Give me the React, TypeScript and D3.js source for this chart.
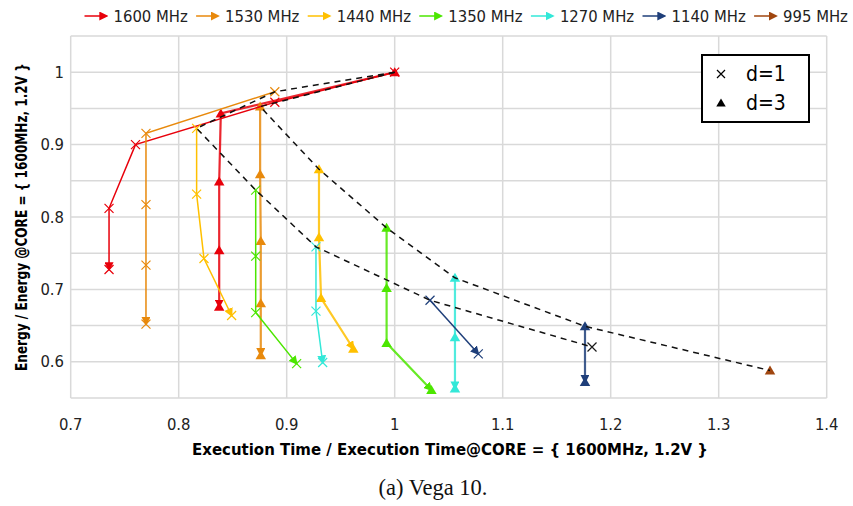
import * as d3 from "d3";
import { useEffect, useRef } from "react";

// core frequencies (legend order) and their colours
const freqLabels = ["1600 MHz", "1530 MHz", "1440 MHz", "1350 MHz", "1270 MHz", "1140 MHz", "995 MHz"];
const seriesColors = ["#e8000b", "#e8890c", "#ffc000", "#4ce600", "#33e8d8", "#1f3f7a", "#a0460f"];
const d1MarkerColors = ["#e8000b", "#e8890c", "#ffc000", "#4ce600", "#33e8d8", "#1f3f7a", "#1a1a1a"];

// d=1 runs (cross markers): normalised execution time / energy
const d1Time = [
  [1.0, 0.889, 0.76, 0.7355, 0.7355],
  [0.889, 0.7697, 0.7697, 0.7697, 0.7697],
  [0.8166, 0.8166, 0.8234, 0.849],
  [0.8713, 0.8713, 0.8713, 0.9092],
  [0.9271, 0.9271, 0.9333],
  [1.0327, 1.0774],
  [1.1827],
];
const d1Energy = [
  [1.0, 0.9585, 0.9, 0.812, 0.7275],
  [0.973, 0.9156, 0.817, 0.7335, 0.652],
  [0.9225, 0.8316, 0.7427, 0.664],
  [0.8372, 0.746, 0.668, 0.5975],
  [0.7588, 0.67, 0.599],
  [0.685, 0.611],
  [0.6205],
];

// d=3 runs (triangle markers)
const d3Time = [
  [1.0, 0.839, 0.8375, 0.8375, 0.8375],
  [0.8754, 0.8754, 0.876, 0.876, 0.876],
  [0.9299, 0.9299, 0.9318, 0.9617],
  [0.9925, 0.9925, 0.9925, 1.034],
  [1.0558, 1.0558, 1.0558],
  [1.1762, 1.1762],
  [1.3475],
];
const d3Energy = [
  [1.0, 0.943, 0.849, 0.754, 0.676],
  [0.9525, 0.859, 0.767, 0.681, 0.609],
  [0.866, 0.772, 0.688, 0.618],
  [0.785, 0.702, 0.626, 0.561],
  [0.716, 0.634, 0.563],
  [0.649, 0.572],
  [0.588],
];

const xTicks = [0.7, 0.8, 0.9, 1, 1.1, 1.2, 1.3, 1.4];
const yTicks = [0.6, 0.7, 0.8, 0.9, 1];

const sansFont = "'DejaVu Sans Condensed', 'DejaVu Sans', sans-serif";

export default function App() {
  const ref = useRef<SVGSVGElement>(null);

  useEffect(() => {
    const svg = d3.select(ref.current);
    svg.selectAll("*").remove();

    const width = 853;
    const height = 506;
    const margin = { top: 36, right: 26.3, bottom: 108, left: 70.7 };

    const x = d3.scaleLinear().domain([0.7, 1.4]).range([margin.left, width - margin.right]);
    const y = d3.scaleLinear().domain([0.55, 1.05]).range([height - margin.bottom, margin.top]);

    // arrowheads
    const defs = svg.append("defs");
    seriesColors.forEach((c, i) => {
      defs.append("marker")
        .attr("id", `arrow-${i}`)
        .attr("viewBox", "0 0 10 10")
        .attr("refX", 8)
        .attr("refY", 5)
        .attr("markerWidth", 9)
        .attr("markerHeight", 9)
        .attr("markerUnits", "userSpaceOnUse")
        .attr("orient", "auto")
        .append("path")
        .attr("d", "M0,0 L10,5 L0,10 z")
        .attr("fill", c);
    });

    // grid
    const grid = svg.append("g").attr("stroke", "#d9d9d9").attr("stroke-width", 1.5);
    d3.range(0.55, 1.0501, 0.05).forEach(v => {
      grid.append("line")
        .attr("x1", x(0.7)).attr("x2", x(1.4))
        .attr("y1", y(v)).attr("y2", y(v));
    });
    xTicks.forEach(v => {
      grid.append("line")
        .attr("x1", x(v)).attr("x2", x(v))
        .attr("y1", y(0.55)).attr("y2", y(1.05));
    });

    // tick labels
    svg.append("g")
      .selectAll("text")
      .data(xTicks)
      .join("text")
      .attr("x", d => x(d))
      .attr("y", 424)
      .attr("text-anchor", "middle")
      .attr("dominant-baseline", "central")
      .style("font-family", sansFont)
      .style("font-size", "16.5px")
      .attr("fill", "#222")
      .text(d => String(d));

    svg.append("g")
      .selectAll("text")
      .data(yTicks)
      .join("text")
      .attr("x", 64)
      .attr("y", d => y(d))
      .attr("text-anchor", "end")
      .attr("dominant-baseline", "central")
      .style("font-family", sansFont)
      .style("font-size", "16.5px")
      .attr("fill", "#222")
      .text(d => String(d));

    const line = d3.line<[number, number]>().x(d => x(d[0])).y(d => y(d[1]));

    const crossPath = (s: number) => `M${-s},${-s}L${s},${s}M${-s},${s}L${s},${-s}`;
    const triPath = (s: number) => `M0,${-s}L${s * 1.05},${s * 0.8}L${-s * 1.05},${s * 0.8}Z`;

    const plot = svg.append("g");

    // d=3 series
    d3Time.forEach((xs, i) => {
      const pts = xs.map((t, j) => [t, d3Energy[i][j]] as [number, number]);
      if (pts.length > 1) {
        plot.append("path")
          .attr("d", line(pts))
          .attr("fill", "none")
          .attr("stroke", seriesColors[i])
          .attr("stroke-width", 2.2)
          .attr("stroke-opacity", 0.85)
          .attr("marker-end", `url(#arrow-${i})`);
      }
      plot.append("g")
        .selectAll("path")
        .data(pts)
        .join("path")
        .attr("transform", d => `translate(${x(d[0])},${y(d[1])})`)
        .attr("d", triPath(5))
        .attr("fill", seriesColors[i]);
    });

    // d=1 series
    d1Time.forEach((xs, i) => {
      const pts = xs.map((t, j) => [t, d1Energy[i][j]] as [number, number]);
      if (pts.length > 1) {
        plot.append("path")
          .attr("d", line(pts))
          .attr("fill", "none")
          .attr("stroke", seriesColors[i])
          .attr("stroke-width", 1.5)
          .attr("marker-end", `url(#arrow-${i})`);
      }
      plot.append("g")
        .selectAll("path")
        .data(pts)
        .join("path")
        .attr("transform", d => `translate(${x(d[0])},${y(d[1])})`)
        .attr("d", crossPath(4.5))
        .attr("fill", "none")
        .attr("stroke", d1MarkerColors[i])
        .attr("stroke-width", 1.2);
    });

    // dashed fronts through the first point of every run
    const front1 = d1Time.map((xs, i) => [xs[0], d1Energy[i][0]] as [number, number]);
    const front3 = d3Time.map((xs, i) => [xs[0], d3Energy[i][0]] as [number, number]);
    [front1, front3].forEach(f => {
      plot.append("path")
        .attr("d", line(f))
        .attr("fill", "none")
        .attr("stroke", "#111")
        .attr("stroke-width", 1.5)
        .attr("stroke-dasharray", "6,5");
    });

    // top legend
    const legend = svg.append("g");
    freqLabels.forEach((lab, i) => {
      const lx = 84.5 + i * 111.6;
      legend.append("line")
        .attr("x1", lx).attr("x2", lx + 22)
        .attr("y1", 16).attr("y2", 16)
        .attr("stroke", seriesColors[i])
        .attr("stroke-width", 1.5)
        .attr("marker-end", `url(#arrow-${i})`);
      legend.append("text")
        .attr("x", lx + 29)
        .attr("y", 16)
        .attr("dominant-baseline", "central")
        .style("font-family", sansFont)
        .style("font-size", "16.5px")
        .attr("fill", "#222")
        .text(lab);
    });

    // d legend box
    const box = svg.append("g");
    box.append("rect")
      .attr("x", 702).attr("y", 55)
      .attr("width", 107).attr("height", 67)
      .attr("fill", "white")
      .attr("stroke", "#000")
      .attr("stroke-width", 2);
    box.append("path")
      .attr("transform", "translate(721,74)")
      .attr("d", crossPath(4))
      .attr("stroke", "#000")
      .attr("stroke-width", 1.2);
    box.append("path")
      .attr("transform", "translate(721,103)")
      .attr("d", triPath(4.5))
      .attr("fill", "#000");
    [["d=1", 74], ["d=3", 103]].forEach(([t, yy]) => {
      box.append("text")
        .attr("x", 746)
        .attr("y", yy as number)
        .attr("dominant-baseline", "central")
        .style("font-family", sansFont)
        .style("font-size", "21px")
        .attr("fill", "#000")
        .text(t as string);
    });

    // axis titles
    svg.append("text")
      .attr("x", 450)
      .attr("y", 449)
      .attr("text-anchor", "middle")
      .attr("dominant-baseline", "central")
      .style("font-family", sansFont)
      .style("font-size", "16.5px")
      .style("font-weight", "bold")
      .attr("textLength", 516)
      .attr("lengthAdjust", "spacingAndGlyphs")
      .text("Execution Time / Execution Time@CORE = { 1600MHz, 1.2V }");

    svg.append("text")
      .attr("transform", `translate(22,${y(0.8)}) rotate(-90)`)
      .attr("text-anchor", "middle")
      .attr("dominant-baseline", "central")
      .style("font-family", sansFont)
      .style("font-size", "15.5px")
      .style("font-weight", "bold")
      .attr("textLength", 308)
      .attr("lengthAdjust", "spacingAndGlyphs")
      .text("Energy / Energy @CORE = { 1600MHz, 1.2V }");

    // caption
    svg.append("text")
      .attr("x", 433)
      .attr("y", 487)
      .attr("text-anchor", "middle")
      .attr("dominant-baseline", "central")
      .style("font-family", "'Liberation Serif', serif")
      .style("font-size", "22.5px")
      .attr("fill", "#111")
      .text("(a) Vega 10.");
  }, []);

  return (
    <svg
      ref={ref}
      width={853}
      height={506}
      style={{ position: "absolute", left: 0, top: 0, background: "white" }}
    />
  );
}
